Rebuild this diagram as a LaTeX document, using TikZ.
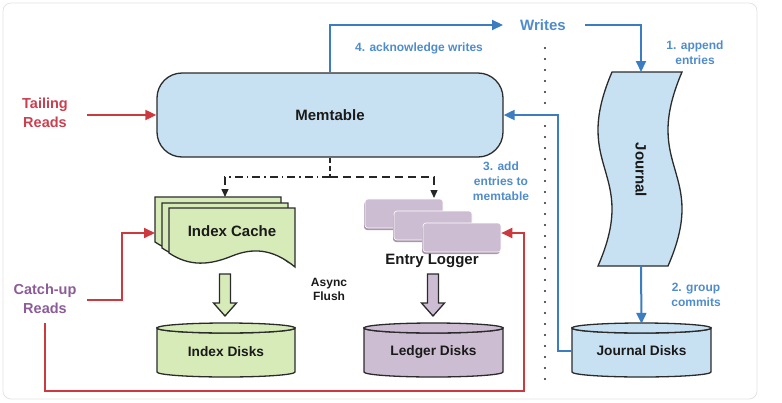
\documentclass[tikz,border=0pt]{standalone}
\usepackage{fontspec}
\setmainfont{Liberation Sans}
\usetikzlibrary{arrows.meta}
\definecolor{memblue}{HTML}{C7E1F2}
\definecolor{lineblue}{HTML}{3B7DC0}
\definecolor{lblblue}{HTML}{4F8CCC}
\definecolor{redl}{HTML}{CC3A40}
\definecolor{redtxt}{HTML}{C94050}
\definecolor{purtxt}{HTML}{8B5C98}
\definecolor{grn}{HTML}{D6EBB8}
\definecolor{pur}{HTML}{CDBDD2}
\definecolor{purdk}{HTML}{A896AD}
\definecolor{edge}{HTML}{2B2B2B}
\definecolor{txtdark}{HTML}{1A1A1A}
\newcommand{\diskdraw}[5]{%
  \pgfmathsetmacro{\dkrx}{(#2-#1)/2}%
  \pgfmathsetmacro{\dkcx}{(#1+#2)/2}%
  \draw[shapeline, fill=#5] (#1,#3+5) -- (#1,#4-5) arc[start angle=180,end angle=0,x radius=\dkrx,y radius=5] -- (#2,#3+5) arc[start angle=0,end angle=180,x radius=\dkrx,y radius=5] -- cycle;
  \draw[shapeline, fill=#5] (\dkcx,#3+5) ellipse[x radius=\dkrx, y radius=5];
}
\begin{document}
\begin{tikzpicture}[x=1pt,y=-1pt,
  lbl/.style={text=lblblue,font=\bfseries\fontsize{12}{14.8}\selectfont,align=center,inner sep=0pt},
  big/.style={font=\bfseries\fontsize{15}{18}\selectfont,text=txtdark,inner sep=0pt},
  mid/.style={font=\bfseries\fontsize{13.7}{16}\selectfont,text=txtdark,inner sep=0pt},
  readlbl/.style={font=\bfseries\fontsize{14.5}{19}\selectfont,align=center,inner sep=0pt},
  bline/.style={draw=lineblue,line width=2pt,-{Triangle[length=11pt,width=10pt]}},
  rline/.style={draw=redl,line width=2pt,-{Triangle[length=11pt,width=10pt]}},
  kline/.style={draw=black!85,line width=1.4pt,-{Triangle[length=8pt,width=7pt]}},
  shapeline/.style={draw=edge,line width=1.3pt},
  dotline/.style={draw=black!85,line width=2.2pt,line cap=round,dash pattern=on 0pt off 11pt},
  logrect/.style={fill=pur,draw=white,line width=0.6pt,rounded corners=3pt,minimum width=78pt,minimum height=29pt,inner sep=0pt},
]
\useasboundingbox (0,0) rectangle (782,402);
\draw[gray!22, line width=0.8pt, rounded corners=8pt] (3,3) rectangle (757,399);

% Memtable
\node[shapeline, fill=memblue, rounded corners=25pt, minimum width=346pt, minimum height=84pt, big] (mem) at (330,115) {Memtable};

% Journal
\draw[shapeline, fill=memblue] (612,72) -- (682,72) .. controls (640,170) and (710,170) .. (668,266) -- (598,266) .. controls (640,170) and (570,170) .. (612,72) -- cycle;
\node[big, rotate=-90] (journal) at (641,170) {Journal};

% Index cache sheets
\foreach \dx/\dy in {-14/-11,-7/-5,0/0} {
  \draw[shapeline, fill=grn, shift={(\dx,\dy)}] (169,208) -- (295,208) -- (295,267) .. controls (272,248) and (252,248) .. (232,256) .. controls (210,265) and (190,267) .. (169,253) -- cycle;
}
\node[big] (ictext) at (232,231) {Index Cache};

% Entry logger rects
\foreach \n/\cx/\cy in {el1/404/213.5, el2/433/225.5, el3/462/237.5} {
  \fill[purdk, rounded corners=3pt] (\cx-40,\cy-12) rectangle (\cx+38,\cy+16.5);
  \node[logrect] (\n) at (\cx,\cy) {};
}
\node[big] (elog) at (432,261) {Entry Logger};

% Hollow arrows
\draw[shapeline, fill=grn] (219.5,274) -- (230.5,274) -- (230.5,303) -- (236.5,303) -- (225,316) -- (213.5,303) -- (219.5,303) -- cycle;
\draw[shapeline, fill=pur] (427.5,274) -- (438.5,274) -- (438.5,303) -- (444.5,303) -- (433,316) -- (421.5,303) -- (427.5,303) -- cycle;

% Disks
\diskdraw{157}{295}{323}{377}{grn}
\diskdraw{364}{503}{323}{377}{pur}
\diskdraw{572}{711}{323}{377}{memblue}
\node[mid, minimum width=138pt, minimum height=54pt] (idisk) at (226,352) {Index Disks};
\node[mid, minimum width=139pt, minimum height=54pt] (ldisk) at (433.5,352) {Ledger Disks};
\node[mid, minimum width=139pt, minimum height=54pt] (jdisk) at (641.5,351) {Journal Disks};

% Labels
\node[text=lblblue, font=\bfseries\fontsize{15}{18}\selectfont, inner sep=0pt] (writes) at (543,25) {Writes};
\node[lbl] (ack) at (419,48.5) {4. acknowledge writes};
\node[lbl] (append) at (695,52.5) {1. append\\entries};
\node[lbl] (group) at (696,295) {2. group\\commits};
\node[lbl] (add) at (501,181) {3. add\\entries to\\memtable};
\node[readlbl, text=redtxt] (tail) at (45,113) {Tailing\\Reads};
\node[readlbl, text=purtxt] (catch) at (45,299) {Catch-up\\Reads};
\node[font=\bfseries\fontsize{12}{14.5}\selectfont, text=txtdark, align=center, inner sep=0pt] (async) at (329,289.5) {Async\\Flush};

% Separator
\draw[dotline] (545,48) -- (545,104);
\draw[dotline] (545,126) -- (545,383);

% Coordinates
\coordinate (split) at (330,177);
\coordinate (ictop) at (225,197);
\coordinate (eltop) at (434,198);
\coordinate (tailstart) at (87,115);
\coordinate (icleft) at (155,233);
\coordinate (catchstart) at (87,300);
\coordinate (catchdown) at (45,323);
\coordinate (jtop) at (641,72);
\coordinate (jbot) at (641,266);

% Black dashed connectors
\draw[black!85, line width=1.4pt, dash pattern=on 5pt off 3pt] (mem.south) -- (split);
\draw[kline, dash pattern=on 8pt off 4pt on 1.5pt off 4pt] (split) -| (ictop);
\draw[kline, dash pattern=on 8pt off 5pt] (split) -| (eltop);

% Red connectors
\draw[rline] (tailstart) -- (mem.west);
\draw[rline] (catchstart) -- (122,300) |- (icleft);
\draw[rline] (catchdown) |- (524,391) |- ([yshift=4.5pt]el3.east);

% Blue connectors
\draw[bline, shorten >=17pt] (mem.north) |- (writes.west);
\draw[bline, shorten <=19pt] (writes.east) -| (jtop);
\draw[bline] (jbot) -- (jdisk.north);
\draw[bline] (jdisk.west) -- ++(-14,0) |- (mem.east);
\end{tikzpicture}
\end{document}
